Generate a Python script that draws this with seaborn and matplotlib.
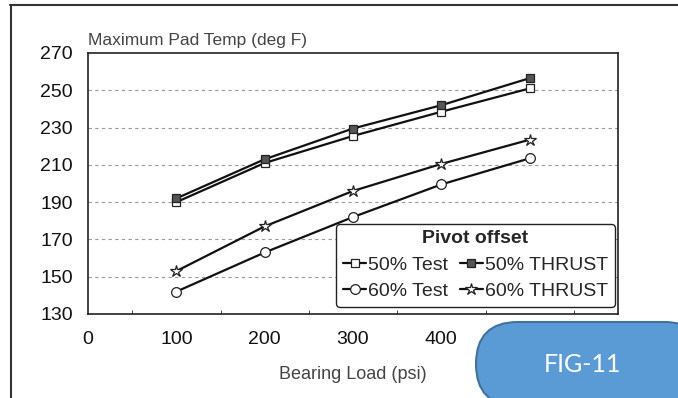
import matplotlib
matplotlib.use("Agg")
import matplotlib.pyplot as plt
import seaborn as sns
import pandas as pd
from matplotlib.patches import FancyBboxPatch
from matplotlib.lines import Line2D
from matplotlib.transforms import IdentityTransform
from matplotlib.ticker import MultipleLocator

load = [100, 200, 300, 400, 500]
test_50 = [190, 211, 225.5, 238.5, 251]
thrust_50 = [192, 213, 229.5, 242, 256.5]
test_60 = [142, 163, 182, 199.5, 213.5]
thrust_60 = [153, 177, 196, 210.5, 223.5]
series_names = ["50% Test", "50% THRUST", "60% Test", "60% THRUST"]
x_ticks = [0, 100, 200, 300, 400, 500, 600]
y_ticks = [130, 150, 170, 190, 210, 230, 250, 270]

sns.set_style("white")
plt.rcParams['font.family'] = ['Liberation Sans', 'DejaVu Sans']

fig = plt.figure(figsize=(6.78, 3.98), dpi=100)
ax = fig.add_axes([88/678, 1-314/398, (618-88)/678, (314-53)/398])

styles = {
    "50% Test": dict(marker='s', markerfacecolor='white', markersize=6),
    "50% THRUST": dict(marker='s', markerfacecolor='#555555', markersize=6),
    "60% Test": dict(marker='o', markerfacecolor='white', markersize=7),
    "60% THRUST": dict(marker='*', markerfacecolor='white', markersize=9),
}
values = {"50% Test": test_50, "50% THRUST": thrust_50,
          "60% Test": test_60, "60% THRUST": thrust_60}

for name in series_names:
    df = pd.DataFrame({"load": load, "temp": values[name]})
    sns.lineplot(data=df, x="load", y="temp", ax=ax, color='#111111', lw=1.6,
                 markeredgecolor='#222222', markeredgewidth=0.9, label=name,
                 **styles[name])

ax.set_xlim(0, 600)
ax.set_ylim(130, 270)
ax.set_xticks(x_ticks)
ax.set_yticks(y_ticks)
ax.xaxis.set_minor_locator(MultipleLocator(50))
ax.tick_params(axis='x', which='major', direction='inout', length=8, width=0.8,
               labelsize=14, colors='#111111', pad=8)
ax.tick_params(axis='x', which='minor', direction='in', length=3, width=0.6, bottom=True)
ax.tick_params(axis='y', which='major', direction='out', length=7, width=0.8,
               labelsize=14, colors='#111111', pad=4)
for y in y_ticks[1:-1]:
    ax.axhline(y, color='#9a9a9a', lw=0.8, ls=(0, (3, 3)), zorder=0)
for s in ax.spines.values():
    s.set_color('#222222')
    s.set_linewidth(1.2)

ax.set_xlabel("Bearing Load (psi)", fontsize=13, color='#444444', labelpad=13)
ax.set_ylabel("")
fig.text(88/678, 1-40/398, "Maximum Pad Temp (deg F)", fontsize=12.5,
         color='#444444', ha='left', va='center')

h, l = ax.get_legend_handles_labels()
order = [l.index("50% Test"), l.index("60% Test"), l.index("50% THRUST"), l.index("60% THRUST")]
leg = ax.legend([h[i] for i in order], [l[i] for i in order], ncol=2,
                title="Pivot offset", fontsize=14, title_fontsize=14,
                loc='lower right', bbox_to_anchor=(615/678, 1-307/398),
                bbox_transform=fig.transFigure, frameon=True, fancybox=True,
                edgecolor='#222222', framealpha=1, handlelength=1.2,
                handletextpad=0.1, columnspacing=0.6, labelspacing=0.45,
                borderpad=0.35, borderaxespad=0)
leg.get_title().set_fontweight('bold')
leg.get_frame().set_linewidth(1.0)

# outer frame lines
fig.add_artist(Line2D([10/678, 1], [1-5/398, 1-5/398], transform=fig.transFigure,
                      color='#333333', lw=1.5))
fig.add_artist(Line2D([11/678, 11/678], [0, 1-5/398], transform=fig.transFigure,
                      color='#333333', lw=1.5))

# FIG-11 badge
badge = FancyBboxPatch((476, -8), 230, 84, boxstyle="round,pad=0,rounding_size=42",
                       transform=IdentityTransform(), facecolor='#5B9BD5',
                       edgecolor='#41719C', lw=1.5, zorder=10)
fig.add_artist(badge)
fig.text(582/678, 1-364/398, "FIG-11", fontsize=18, color='white',
         ha='center', va='center', family=['Lato', 'DejaVu Sans'], zorder=11)

fig.savefig("out.png", dpi=100)
